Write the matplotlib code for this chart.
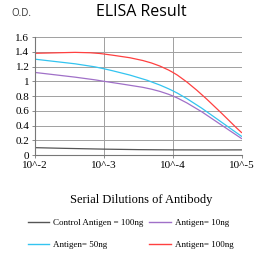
import matplotlib
matplotlib.use("Agg")
import matplotlib.pyplot as plt
from matplotlib.path import Path
from matplotlib.patches import PathPatch
import numpy as np

# data
dilutions = ["10^-2", "10^-3", "10^-4", "10^-5"]
control_100 = [0.10, 0.08, 0.07, 0.07]
antigen_10 = [1.12, 1.00, 0.80, 0.22]
antigen_50 = [1.30, 1.17, 0.87, 0.25]
antigen_100 = [1.38, 1.37, 1.12, 0.30]

# order so the 2-column legend reads row by row like the original
series = [
    ("Control Antigen = 100ng", control_100, "#555555"),
    ("Antigen= 50ng", antigen_50, "#33c4f0"),
    ("Antigen= 10ng", antigen_10, "#a070c8"),
    ("Antigen= 100ng", antigen_100, "#ff4040"),
]

def smooth_path(xs, ys):
    # excel-like smoothed line: cubic bezier through the points
    pts = np.column_stack([xs, ys])
    verts = [pts[0]]
    codes = [Path.MOVETO]
    n = len(pts)
    for i in range(n - 1):
        p0 = pts[i - 1] if i > 0 else pts[i]
        p1 = pts[i]
        p2 = pts[i + 1]
        p3 = pts[i + 2] if i + 2 < n else pts[i + 1]
        c1 = p1 + (p2 - p0) / 6.0
        c2 = p2 - (p3 - p1) / 6.0
        verts += [c1, c2, p2]
        codes += [Path.CURVE4] * 3
    return Path(verts, codes)

fig = plt.figure(figsize=(2.61, 2.61), dpi=100)
ax = fig.add_axes([0.134, 0.406, 0.793, 0.452])

x = np.arange(len(dilutions))
for label, vals, col in series:
    ax.add_patch(PathPatch(smooth_path(x, vals), facecolor="none", edgecolor=col, lw=0.9))
    ax.plot([], [], color=col, lw=1.0, label=label)

ax.set_xlim(0, 3)
ax.set_ylim(0, 1.6)
ax.set_yticks(np.arange(0, 1.61, 0.2))
ax.set_yticklabels(["0", "0.2", "0.4", "0.6", "0.8", "1", "1.2", "1.4", "1.6"])
ax.set_xticks(x)
ax.set_xticklabels(dilutions)
ax.grid(True, color="#a0a0a0", lw=0.7)
ax.set_axisbelow(True)
for s in ["top", "right"]:
    ax.spines[s].set_visible(False)
for s in ["left", "bottom"]:
    ax.spines[s].set_color("#777777")
    ax.spines[s].set_linewidth(0.8)
ax.tick_params(length=2, width=0.6, color="#777777", labelsize=8, pad=2)
for t in ax.get_xticklabels() + ax.get_yticklabels():
    t.set_fontfamily("Liberation Serif")

fig.text(0.54, 0.955, "ELISA Result", ha="center", va="center", fontsize=11.5, family="Open Sans")
fig.text(0.045, 0.95, "O.D.", ha="left", va="center", fontsize=7, family="Open Sans", color="#333333")
fig.text(0.54, 0.235, "Serial Dilutions of Antibody", ha="center", va="center", fontsize=9, family="Liberation Serif")

fig.legend(loc="center", bbox_to_anchor=(0.5, 0.103), ncol=2, frameon=False,
           prop={"family": "Liberation Serif", "size": 6.5}, handlelength=2.4,
           columnspacing=0.7, labelspacing=1.5, handletextpad=0.4)

fig.savefig("out.png", dpi=100)
